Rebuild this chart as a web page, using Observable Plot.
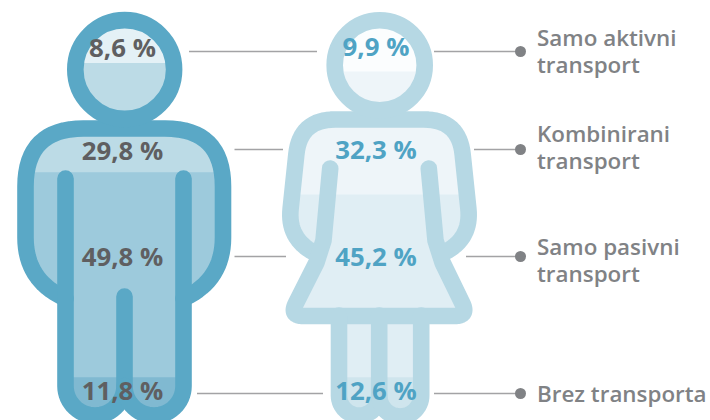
<!DOCTYPE html>
<html>
<head>
<meta charset="utf-8">
<script src="https://cdn.jsdelivr.net/npm/d3@7"></script>
<script src="https://cdn.jsdelivr.net/npm/@observablehq/plot@0.6"></script>
<style>
html,body{margin:0;padding:0;background:#fff;overflow:hidden}
svg{display:block}
</style>
</head>
<body>
<div id="chart"></div>
<script>
// values
const categories = ["Samo aktivni transport", "Kombinirani transport", "Samo pasivni transport", "Brez transporta"];
const menValues = [8.6, 29.8, 49.8, 11.8];
const womenValues = [9.9, 32.3, 45.2, 12.6];
const legendLines = ["Samo aktivni\ntransport", "Kombinirani\ntransport", "Samo pasivni\ntransport", "Brez transporta"];

const fmt = v => v.toFixed(1).replace(".", ",") + " %";
const rad = Math.PI / 180;

// figure drawing helpers: outlines in the plot's x / y units
function arc(cx, cy, r, a0, a1) {
  const pts = [], n = Math.max(8, Math.ceil(Math.abs(a1 - a0) / 6));
  for (let i = 0; i <= n; i++) {
    const a = (a0 + (a1 - a0) * i / n) * rad;
    pts.push([cx + r * Math.cos(a), cy + r * Math.sin(a)]);
  }
  return pts;
}
function rounded(points) {
  const out = [];
  points.forEach((p, i) => {
    if (!p[2]) { out.push([p[0], p[1]]); return; }
    const a = points[i - 1], b = points[i + 1], r = p[2];
    const da = Math.hypot(a[0] - p[0], a[1] - p[1]), db = Math.hypot(b[0] - p[0], b[1] - p[1]);
    const s = [p[0] + (a[0] - p[0]) * r / da, p[1] + (a[1] - p[1]) * r / da];
    const e = [p[0] + (b[0] - p[0]) * r / db, p[1] + (b[1] - p[1]) * r / db];
    for (let k = 0; k <= 16; k++) {
      const t = k / 16, u = 1 - t;
      out.push([u * u * s[0] + 2 * u * t * p[0] + t * t * e[0], u * u * s[1] + 2 * u * t * p[1] + t * t * e[1]]);
    }
  });
  return out;
}

// man silhouette
const manHead = {x: 124.2, y: 69, r: 49.4, cut: 62.5};
const manUpper = rounded([[65, 298], [25, 279, 42], [25, 128, 58], [222.5, 128, 58], [222.5, 279, 42], [183, 298]]);
const manLegsLeft = [[65, 178], ...arc(94.5, 385.5, 29.5, 180, 0), [124, 296]];
const manLegsRight = [...arc(153.5, 385.5, 29.5, 180, 0), [183, 178]];
const manTop = rounded([[25, 171.7], [25, 128, 58], [222.5, 128, 58], [222.5, 171.7]]);
const manFootPoly = [[65, 376.7], ...arc(94.5, 385.5, 29.5, 180, 0), ...arc(153.5, 385.5, 29.5, 180, 0), [183, 376.7]];
const manLegsFill = [[65, 290], ...arc(94.5, 385.5, 29.5, 180, 0), ...arc(153.5, 385.5, 29.5, 180, 0), [183, 290]];

// woman silhouette
const womanHead = {x: 379.2, y: 64.7, r: 45, cut: 71};
const womanUpper = rounded([[317, 254], [287, 238, 30], [299.5, 119, 35], [458.5, 119, 35], [471, 238, 30], [440, 254]]);
const womanTop = rounded([[291, 194], [299.5, 119, 35], [458.5, 119, 35], [466.5, 194]]);
const womanDress = rounded([[329.7, 168], [323, 240], [316, 262], [289, 315.5, 14], [468, 315.5, 14], [442, 262], [435, 240], [428.3, 168]]);
const womanLegsLeft = [[338.5, 315], ...arc(358.6, 395, 20.1, 180, 0), [378.7, 315]];
const womanLegsRight = [...arc(399.7, 395, 21, 180, 0), [420.7, 315]];
const womanFootPoly = [[338.5, 376.7], ...arc(358.6, 395, 20.1, 180, 0), ...arc(399.7, 395, 21, 180, 0), [420.7, 376.7]];
const womanLegsFill = [[338.5, 315], ...arc(358.6, 395, 20.1, 180, 0), ...arc(399.7, 395, 21, 180, 0), [420.7, 315]];

function chord(h) {
  const a = Math.asin((h.cut - h.y) / h.r) / rad;
  return arc(h.x, h.y, h.r, a, 180 - a);
}

// label positions along each figure
const labelY = [48, 151, 257, 391];
const womanLabelY = [47, 150, 257, 391];
const leaderY = [51, 149, 256, 393];
const manLeader = [[189, 317], [234.5, 283], [234.5, 286], [197, 323]];
const womanLeader = [[434, 520], [474, 520], [466, 520], [434, 520]];
const legendY = [50.3, 146.3, 259.3, 392.5];
const legendRows = legendLines.map((t, i) => ({t, y: legendY[i]}));

const leaders = [...manLeader, ...womanLeader].map((s, i) => ({x1: s[0], x2: s[1], y: leaderY[i % 4]}));
const manLabels = menValues.map((v, i) => ({c: categories[i], t: fmt(v), x: 122, y: labelY[i]}));
const womanLabels = womenValues.map((v, i) => ({c: categories[i], t: fmt(v), x: 375.5, y: womanLabelY[i]}));

const manStroke = "#5AA8C6", womanStroke = "#B6D8E4";
const sw = 16.6;
const fill = (pts, c) => Plot.line(pts, {fill: c, stroke: "none"});
const ln = (pts, c) => Plot.line(pts, {stroke: c, strokeWidth: sw, strokeLinecap: "round", strokeLinejoin: "round"});

const chart = Plot.plot({
  width: 710, height: 420, margin: 0,
  x: {domain: [0, 710], axis: null},
  y: {domain: [0, 420], range: [0, 420], axis: null},
  style: {background: "#fff"},
  marks: [
    // leaders
    Plot.ruleY(leaders, {x1: "x1", x2: "x2", y: "y", stroke: "#A3A3A5", strokeWidth: 1.6}),
    Plot.dot(leaderY, {x: () => 520, y: d => d, r: 5.5, fill: "#808285", stroke: "none"}),

    // man body
    fill(manUpper, "#9DCADC"),
    fill([[65,178],[65,296],[183,296],[183,178]], "#9DCADC"),
    fill(manLegsFill, "#9DCADC"),
    fill(manTop, "#BCDBE6"),
    fill(manFootPoly, "#80B9D1"),
    ln(manUpper, manStroke),
    ln(manLegsLeft, manStroke),
    ln(manLegsRight, manStroke),
    // man head
    Plot.dot([manHead], {x: "x", y: "y", r: manHead.r, fill: "#E4F1F6", stroke: "none"}),
    fill(chord(manHead), "#BCDBE6"),
    Plot.dot([manHead], {x: "x", y: "y", r: manHead.r, fill: "none", stroke: manStroke, strokeWidth: sw}),

    // woman body
    fill(womanUpper, "#E0EEF4"),
    fill(womanDress, "#E0EEF4"),
    fill(womanLegsFill, "#E0EEF4"),
    fill(womanTop, "#EEF5F9"),
    fill(womanFootPoly, "#CFE5ED"),
    ln(womanUpper, womanStroke),
    ln(womanDress, womanStroke),
    ln(womanLegsLeft, womanStroke),
    ln(womanLegsRight, womanStroke),
    // woman head
    Plot.dot([womanHead], {x: "x", y: "y", r: womanHead.r, fill: "#FBFDFE", stroke: "none"}),
    fill(chord(womanHead), "#EEF5F9"),
    Plot.dot([womanHead], {x: "x", y: "y", r: womanHead.r, fill: "none", stroke: womanStroke, strokeWidth: sw}),

    // labels
    Plot.text(manLabels, {x: "x", y: "y", text: "t", fill: "#5F5F61", fontSize: 25.8, fontWeight: 700, fontFamily: "Open Sans", textAnchor: "middle"}),
    Plot.text(womanLabels, {x: "x", y: "y", text: "t", fill: "#4FA3C4", fontSize: 25.8, fontWeight: 700, fontFamily: "Open Sans", textAnchor: "middle"}),
    Plot.text(legendRows, {x: () => 536.5, y: "y", text: "t", fill: "#808285", fontSize: 22.4, fontWeight: 600, fontFamily: "Open Sans", textAnchor: "start", lineHeight: 1.228})
  ]
});
document.getElementById("chart").append(chart);
</script>
</body>
</html>
